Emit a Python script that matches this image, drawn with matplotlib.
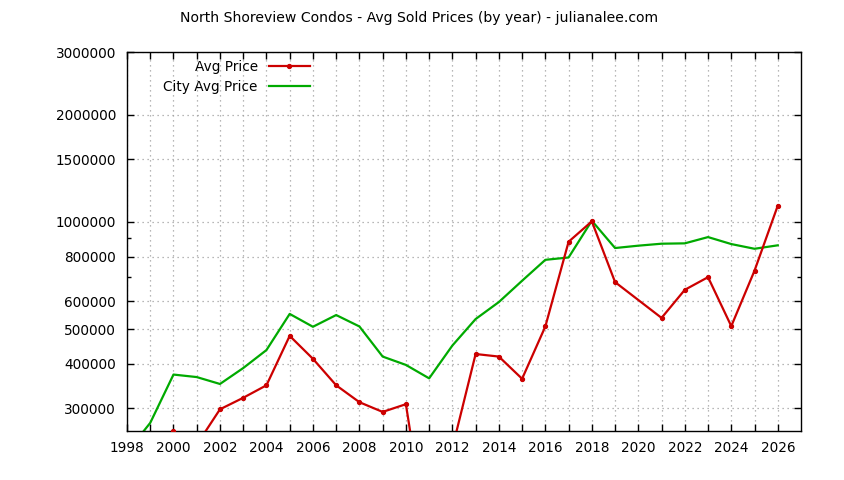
import matplotlib
matplotlib.use("Agg")
import matplotlib.pyplot as plt
from matplotlib.ticker import FixedLocator, NullFormatter, FuncFormatter

# ---- data ----
avg_years = [2000, 2001, 2002, 2003, 2004, 2005, 2006, 2007, 2008, 2009, 2010,
             2011, 2012, 2013, 2014, 2015, 2016, 2017, 2018, 2019, 2021,
             2022, 2023, 2024, 2025, 2026]
avg_price = [259500, 237000, 298000, 321000, 348000, 479000, 413000, 348000,
             312000, 293000, 308000, 118000, 232000, 426000, 419000, 363000,
             509000, 880000, 1004000, 678000, 538000, 645000, 700000, 510000,
             730000, 1111000]

city_years = list(range(1998, 2027))
city_price = [226000, 273000, 373000, 367000, 351000, 389000, 437000, 552000,
              508000, 548000, 509000, 419000, 397000, 364000, 450000, 534000,
              596000, 684000, 783000, 795000, 1008000, 845000, 858000, 869000,
              871000, 907000, 867000, 841000, 860000]

y_major = [300000, 400000, 500000, 600000, 800000, 1000000, 1500000, 2000000, 3000000]
y_minor = [700000, 900000]
x_labels = list(range(1998, 2027, 2))
x_minor = list(range(1999, 2027, 2))

title = "North Shoreview Condos - Avg Sold Prices (by year) - julianalee.com"

plt.rcParams['font.family'] = ['DejaVu Sans']
fig = plt.figure(figsize=(8.44, 4.8), dpi=100)
ax = fig.add_axes([127/844, 1-431/480, (801-127)/844, (431-52)/480])

red = '#cc0000'
green = '#00aa00'
ax.plot(avg_years, avg_price, color=red, lw=1.6, marker='o', markersize=2.8,
        label='Avg Price', zorder=3)
ax.plot(city_years, city_price, color=green, lw=1.6, label='City Avg Price', zorder=2)

ax.set_yscale('log')
ax.set_ylim(259000, 3000000)
ax.set_xlim(1998, 2027)

ax.yaxis.set_major_locator(FixedLocator(y_major))
ax.yaxis.set_minor_locator(FixedLocator(y_minor))
ax.yaxis.set_major_formatter(FuncFormatter(lambda v, p: f"{int(round(v))}"))
ax.yaxis.set_minor_formatter(NullFormatter())
ax.xaxis.set_major_locator(FixedLocator(x_labels))
ax.xaxis.set_minor_locator(FixedLocator(x_minor))
ax.xaxis.set_major_formatter(FuncFormatter(lambda v, p: f"{int(v)}"))

ax.tick_params(which='both', direction='in', top=True, right=True,
               length=5, width=1, labelsize=9.8, colors='black')
ax.tick_params(axis='y', which='minor', length=3)
ax.tick_params(axis='y', pad=8)
ax.tick_params(axis='x', pad=7)

ax.grid(True, which='major', axis='y', color='#a0a0a0', linestyle=(0, (1, 3)), lw=0.9)
ax.grid(True, which='both', axis='x', color='#a0a0a0', linestyle=(0, (1, 3)), lw=0.9)
ax.set_axisbelow(True)
for s in ax.spines.values():
    s.set_linewidth(1)
    s.set_color('black')

leg = ax.legend(loc='upper left', bbox_to_anchor=(0.042, 1.0), frameon=False,
                markerfirst=False, fontsize=9.8, handlelength=3.0,
                labelspacing=0.42, borderaxespad=0.2)
for t in leg.get_texts():
    t.set_ha('right')

fig.text(419/844, 1-18/480, title, ha='center', va='center', fontsize=10.1)

fig.savefig('out.png', dpi=100)
